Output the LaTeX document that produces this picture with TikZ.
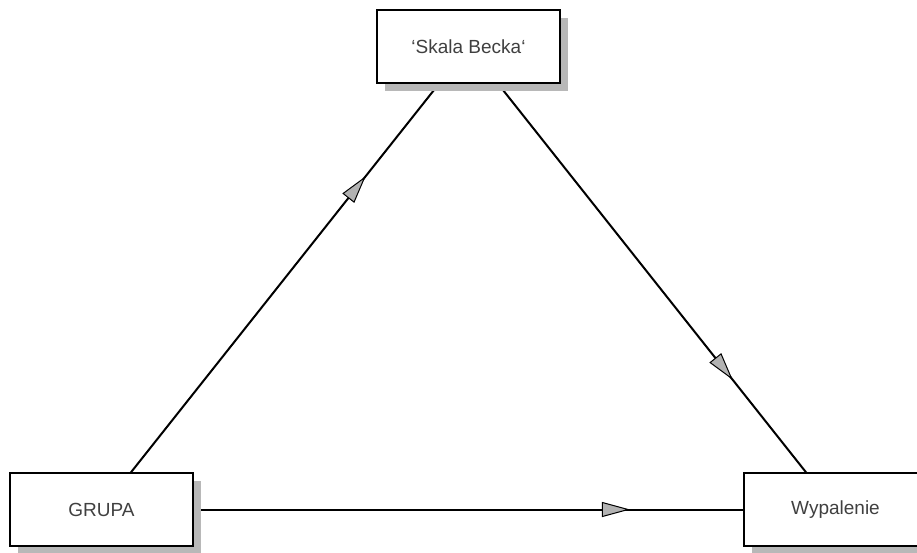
\documentclass[tikz,border=0pt]{standalone}
\usepackage{fontspec}
\setmainfont{Liberation Sans}
\usetikzlibrary{arrows.meta,decorations.markings,shadows}
\pgfdeclarelayer{bg}
\pgfsetlayers{bg,main}
\begin{document}
\begin{tikzpicture}[x=1pt,y=-1pt,
  box/.style={draw=black,line width=2pt,fill=white,minimum width=183pt,minimum height=73pt,
    inner sep=0pt,font=\fontsize{19}{23}\selectfont,text=black!75,
    drop shadow={shadow xshift=8pt,shadow yshift=-8pt,fill=black!28,opacity=1}},
  conn/.style={line width=2pt,postaction={decorate},
    decoration={markings,mark=at position 0.72 with
      {\arrow{Triangle[length=28pt,width=15pt,fill=black!30,line width=1pt]}}}}]
\useasboundingbox (0,0) rectangle (917,552);
\node[box] (skala) at (468.5,46.5) {\symbol{"60}Skala Becka\symbol{"60}};
\node[box] (grupa) at (101.5,509.5) {GRUPA};
\node[box] (wyp) at (835.5,509.5) {Wypalenie};
\begin{pgfonlayer}{bg}
  \fill[white] (0,0) rectangle (917,552);
  \draw[conn] (grupa.center) -- (skala.center);
  \draw[conn] (skala.center) -- (wyp.center);
  \draw[conn] (grupa.center) -- (wyp.center);
\end{pgfonlayer}
\end{tikzpicture}
\end{document}
